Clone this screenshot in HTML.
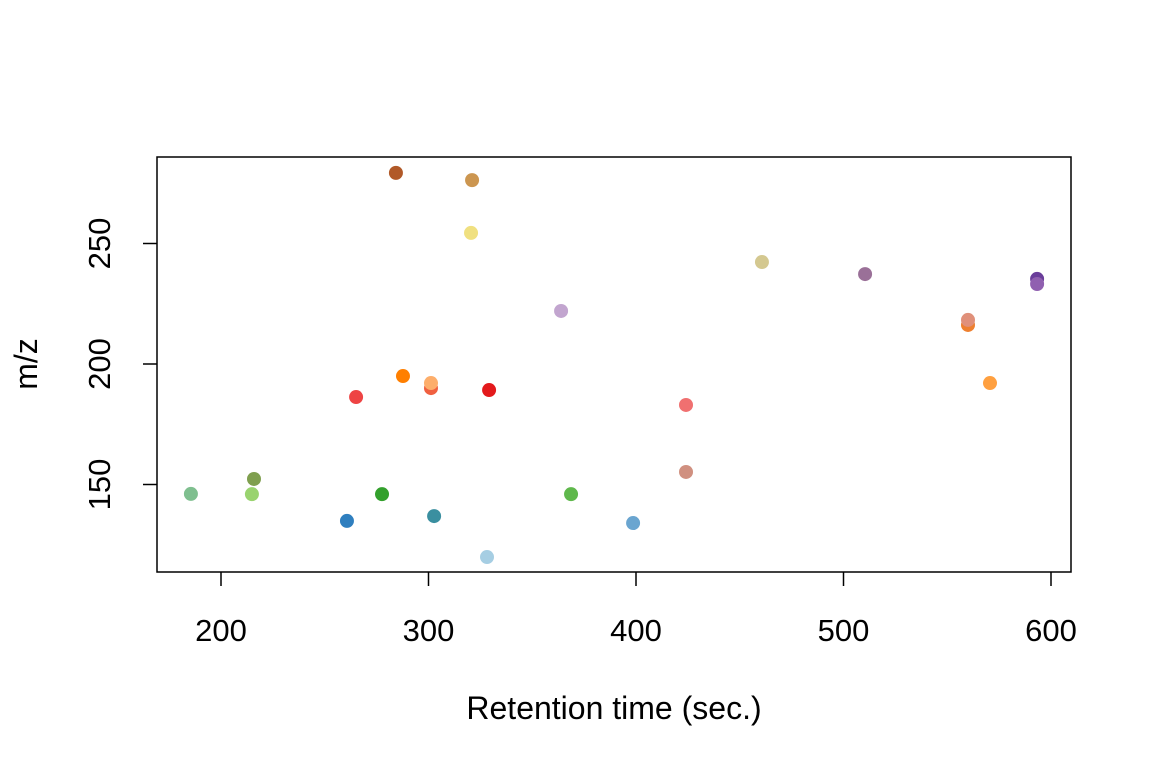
<!DOCTYPE html>
<html><head><meta charset="utf-8"><style>
html,body{margin:0;padding:0;background:#fff}
svg text{font-family:"Liberation Sans",sans-serif;fill:#000}
</style></head><body>
<svg width="1152" height="768">
<rect x="157" y="157" width="914" height="415" fill="none" stroke="#000" stroke-width="1.5"/>
<g id="xaxis"></g>
<g id="yaxis"></g>
<g id="pts"></g>
<text x="614" y="719" font-size="32" text-anchor="middle">Retention time (sec.)</text>
<text transform="translate(37,364) rotate(-90)" font-size="32" text-anchor="middle">m/z</text>
</svg>
<script>
const xTicks=[200,300,400,500,600];
const yTicks=[150,200,250];
const rt=[185.5,214.9,215.9,260.7,277.6,265.1,284.3,287.7,301.2,301.2,302.7,321,320.5,328.2,329.2,363.9,368.7,398.6,424.1,424.1,460.7,510.4,560,560,570.6,593.3,593.3];
const mz=[146.1,146,152.3,134.9,146,186.3,279.3,195,190,192.1,136.9,276.3,254.4,119.9,189.2,222,146,134,183,155.2,242.3,237.3,216.2,218.3,192.1,235.3,233.2];
const colors=["#7fbf8f","#99d36f","#7f9f4f","#2f7fbf","#33a02c","#ee4444","#b15928","#ff7f00","#f06040","#fdae6b","#3a8fa0","#cc9650","#f0e080","#a6cee3","#e31a1c","#c2a5cf","#5fb84c","#6aa5d0","#f07070","#d09080","#d4c890","#9a7098","#ee8030","#e0907a","#ffa040","#6a3d9a","#9060b0"];
const sx=v=>221+(v-200)*2.075;
const sy=v=>364-(v-200)*2.41;
const NS="http://www.w3.org/2000/svg";
function mk(t,a){const e=document.createElementNS(NS,t);for(const k in a)e.setAttribute(k,a[k]);return e;}
const xa=document.getElementById('xaxis');
xTicks.forEach(v=>{
 const l=mk('line',{x1:sx(v),x2:sx(v),y1:572,y2:586,stroke:'#000','stroke-width':1.5});
 
 
 xa.appendChild(l);
 const t=mk('text',{x:sx(v),y:641,'font-size':31,'text-anchor':'middle'});t.textContent=v;
 
 
 xa.appendChild(t);
});
const ya=document.getElementById('yaxis');
yTicks.forEach(v=>{
 const l=mk('line',{x1:143,x2:157,y1:sy(v),y2:sy(v),stroke:'#000','stroke-width':1.5});
 
 
 ya.appendChild(l);
 const t=mk('text',{transform:`translate(110,${sy(v)}) rotate(-90)`,'font-size':31,'text-anchor':'middle'});t.textContent=v;
 
 
 ya.appendChild(t);
});
const pg=document.getElementById('pts');
rt.forEach((v,i)=>{
 const c=mk('circle',{cx:sx(v),cy:sy(mz[i]),r:7,fill:colors[i]});
 
 
 pg.appendChild(c);
});
</script>
</body></html>
